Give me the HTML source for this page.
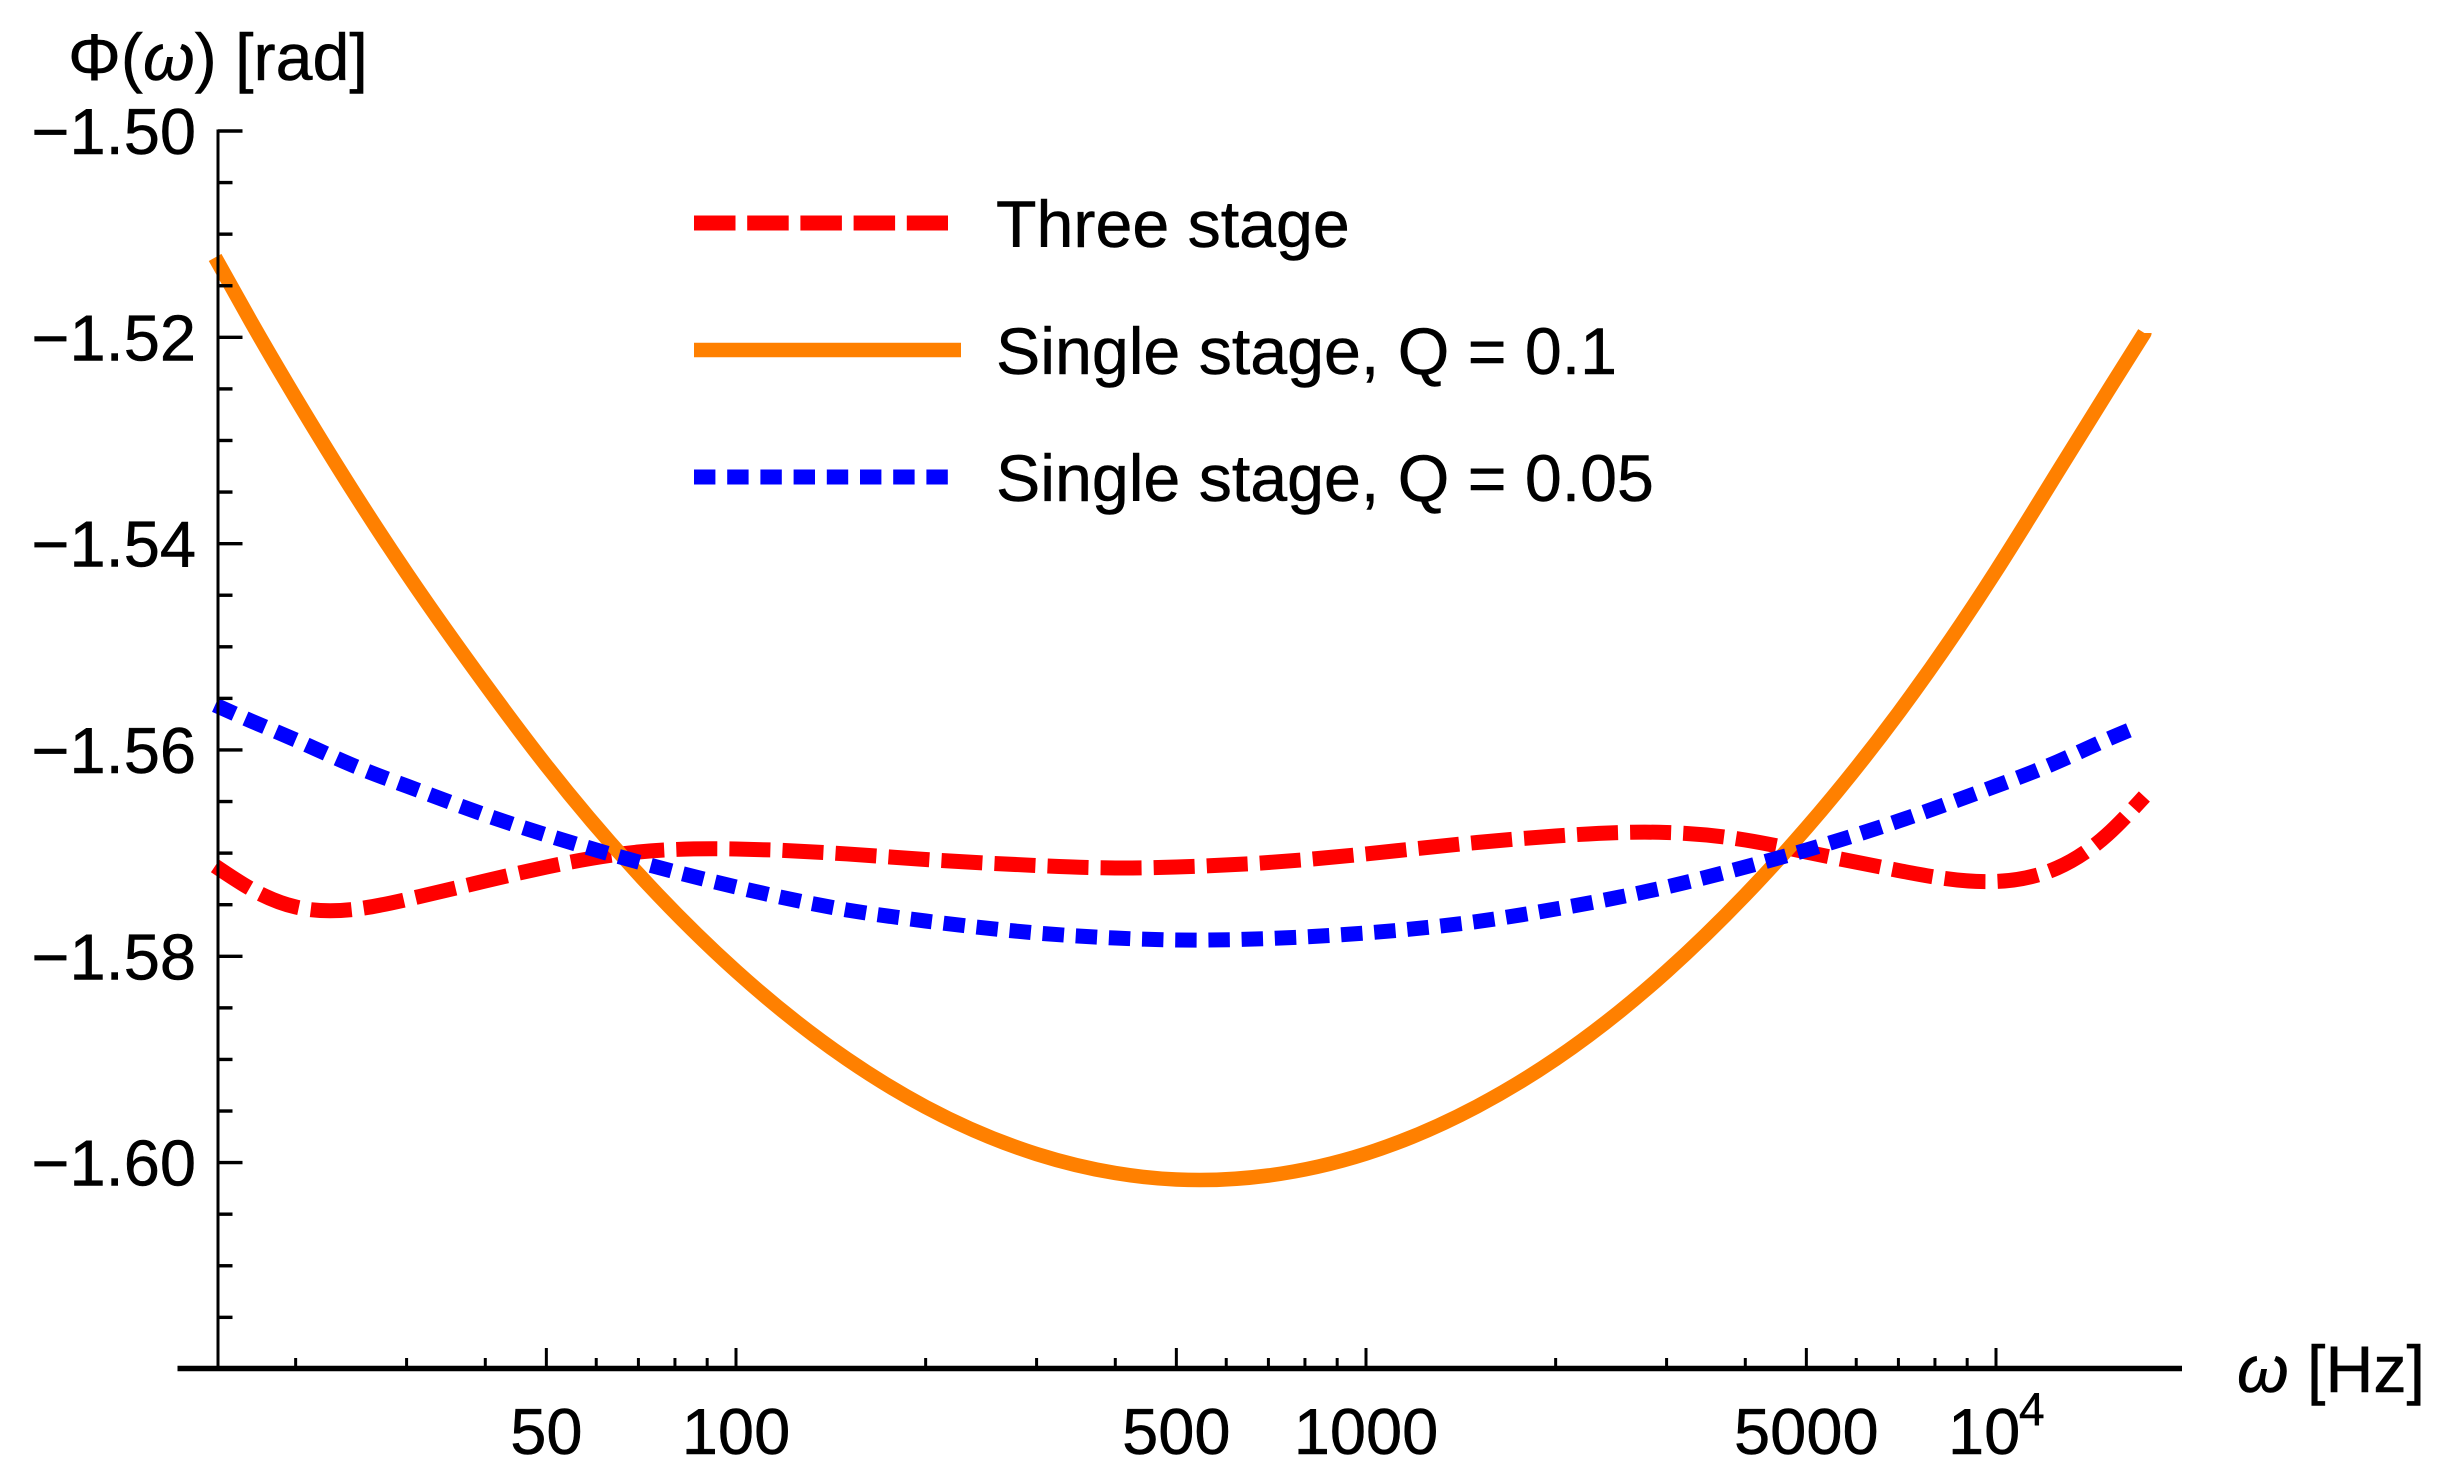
<!DOCTYPE html>
<html lang="en">
<head>
<meta charset="utf-8">
<title>Phase versus frequency</title>
<style>
  html, body { margin: 0; padding: 0; background: #ffffff; }
  body { width: 2446px; height: 1483px; overflow: hidden; }
  svg { display: block; }
  text { font-family: "Liberation Sans", "DejaVu Sans", sans-serif; fill: #000000; stroke: #000000; stroke-width: 0.5px; font-size: 66.3px; }
</style>
</head>
<body>
<svg id="chart" xmlns="http://www.w3.org/2000/svg" width="2446" height="1483" viewBox="0 0 2446 1483">
  <rect x="0" y="0" width="2446" height="1483" fill="#ffffff"/>
  <g id="series"></g>
  <g id="axes"></g>
  <text x="68" y="80">Φ(<tspan font-style="italic">ω</tspan>) [rad]</text>
  <text x="2237" y="1392"><tspan font-style="italic">ω</tspan> [Hz]</text>
  <g>
    <line x1="694" y1="223" x2="948" y2="223" stroke="#ff0000" stroke-width="15" stroke-dasharray="41.5 11.7"/>
    <text x="996" y="247">Three stage</text>
    <line x1="694" y1="350" x2="961" y2="350" stroke="#ff8000" stroke-width="14.5"/>
    <text x="996" y="374">Single stage, Q = 0.1</text>
    <line x1="694" y1="477" x2="948" y2="477" stroke="#0000ff" stroke-width="15" stroke-dasharray="21.4 11.8"/>
    <text x="996" y="501">Single stage, Q = 0.05</text>
  </g>
</svg>
<script>
var frequencies = [14.9, 17, 20, 25, 30, 40, 50, 70, 100, 150, 200, 300, 400, 500, 700, 1000, 1500, 2000, 3000, 4000, 5000, 7000, 10000, 12500, 15000, 17200];
var blueFrequencies = [14.9, 17, 20, 25, 30, 40, 50, 70, 100, 150, 200, 300, 400, 500, 700, 1000, 1500, 2000, 3000, 4000, 5000, 7000, 10000, 12500, 15000, 16300];
var threeStage = [-1.57125, -1.57348, -1.57522, -1.57542, -1.5745, -1.5727, -1.57135, -1.56989, -1.5696, -1.57008, -1.57062, -1.5712, -1.57144, -1.57135, -1.57091, -1.57008, -1.56897, -1.56834, -1.568, -1.56873, -1.56989, -1.57168, -1.57275, -1.57144, -1.56824, -1.56451];
var singleStageQ01 = [-1.51226, -1.51851, -1.52588, -1.53548, -1.54285, -1.55365, -1.56151, -1.57202, -1.58143, -1.58996, -1.59461, -1.59917, -1.60101, -1.60164, -1.60125, -1.59913, -1.59456, -1.58996, -1.58147, -1.57406, -1.56757, -1.55642, -1.54265, -1.53315, -1.52535, -1.51958];
var singleStageQ005 = [-1.55564, -1.55719, -1.55903, -1.56165, -1.56349, -1.5663, -1.56824, -1.57086, -1.57328, -1.57551, -1.57658, -1.57774, -1.57823, -1.57842, -1.57828, -1.57774, -1.57663, -1.57542, -1.57328, -1.57135, -1.5697, -1.56689, -1.56349, -1.56117, -1.55899, -1.55806];
var xMajorTicks = [50, 100, 500, 1000, 5000, 10000];
var xMajorLabels = ["50", "100", "500", "1000", "5000", "10"];
var xMinorTicks = [20, 30, 40, 60, 70, 80, 90, 200, 300, 400, 600, 700, 800, 900, 2000, 3000, 4000, 6000, 7000, 8000, 9000];
var yMajorTicks = [-1.5, -1.52, -1.54, -1.56, -1.58, -1.6];
var yMajorLabels = ["\u22121.50", "\u22121.52", "\u22121.54", "\u22121.56", "\u22121.58", "\u22121.60"];
var yMinorTicks = [-1.505, -1.51, -1.515, -1.525, -1.53, -1.535, -1.545, -1.55, -1.555, -1.565, -1.57, -1.575, -1.585, -1.59, -1.595, -1.605, -1.61, -1.615];

var SVG_NS = "http://www.w3.org/2000/svg";
var axesLayer = document.getElementById("axes");
var seriesLayer = document.getElementById("series");
var AXIS_X = 218;
var AXIS_Y = 1368.5;

function xScale(f) {
  return 736 + 630 * (Math.log10(f) - 2);
}
function yScale(v) {
  return 131 + (-1.5 - v) * 10316;
}
function addLine(parent, x1, y1, x2, y2, width) {
  var el = document.createElementNS(SVG_NS, "line");
  el.setAttribute("x1", x1);
  el.setAttribute("y1", y1);
  el.setAttribute("x2", x2);
  el.setAttribute("y2", y2);
  el.setAttribute("stroke", "#000000");
  el.setAttribute("stroke-width", width);
  parent.appendChild(el);
  return el;
}
function addText(parent, x, y, anchor, str) {
  var el = document.createElementNS(SVG_NS, "text");
  el.setAttribute("x", x);
  el.setAttribute("y", y);
  el.setAttribute("text-anchor", anchor);
  el.style.fontSize = "65px";
  el.textContent = str;
  parent.appendChild(el);
  return el;
}
// Natural cubic spline through the data points, emitted as Bezier segments.
function curvePath(freqs, values) {
  var xs = freqs.map(xScale);
  var ys = values.map(yScale);
  var n = xs.length;
  var m = new Array(n).fill(0);
  var c = new Array(n).fill(0);
  var d = new Array(n).fill(0);
  for (var i = 1; i < n - 1; i++) {
    var h0 = xs[i] - xs[i - 1];
    var h1 = xs[i + 1] - xs[i];
    var rhs = 6 * ((ys[i + 1] - ys[i]) / h1 - (ys[i] - ys[i - 1]) / h0);
    var denom = 2 * (h0 + h1) - h0 * c[i - 1];
    c[i] = h1 / denom;
    d[i] = (rhs - h0 * d[i - 1]) / denom;
  }
  for (var j = n - 2; j > 0; j--) {
    m[j] = d[j] - c[j] * m[j + 1];
  }
  var path = "M" + xs[0].toFixed(2) + " " + ys[0].toFixed(2);
  for (var k = 0; k < n - 1; k++) {
    var h = xs[k + 1] - xs[k];
    var s = (ys[k + 1] - ys[k]) / h;
    var t0 = s - h * (2 * m[k] + m[k + 1]) / 6;
    var t1 = s + h * (m[k] + 2 * m[k + 1]) / 6;
    path += " C" + (xs[k] + h / 3).toFixed(2) + " " + (ys[k] + t0 * h / 3).toFixed(2) +
            " " + (xs[k + 1] - h / 3).toFixed(2) + " " + (ys[k + 1] - t1 * h / 3).toFixed(2) +
            " " + xs[k + 1].toFixed(2) + " " + ys[k + 1].toFixed(2);
  }
  return path;
}

var redCurve = document.createElementNS(SVG_NS, "path");


redCurve.setAttribute("d", curvePath(frequencies, threeStage));
redCurve.setAttribute("fill", "none");
redCurve.setAttribute("stroke", "#ff0000");
redCurve.setAttribute("stroke-width", "15");
redCurve.setAttribute("stroke-dasharray", "41 12.1");
seriesLayer.appendChild(redCurve);

var orangeCurve = document.createElementNS(SVG_NS, "path");


orangeCurve.setAttribute("d", curvePath(frequencies, singleStageQ01));
orangeCurve.setAttribute("fill", "none");
orangeCurve.setAttribute("stroke", "#ff8000");
orangeCurve.setAttribute("stroke-width", "14.5");
seriesLayer.appendChild(orangeCurve);

var blueCurve = document.createElementNS(SVG_NS, "path");


blueCurve.setAttribute("d", curvePath(blueFrequencies, singleStageQ005));
blueCurve.setAttribute("fill", "none");
blueCurve.setAttribute("stroke", "#0000ff");
blueCurve.setAttribute("stroke-width", "15");
blueCurve.setAttribute("stroke-dasharray", "21.4 11.8");
seriesLayer.appendChild(blueCurve);

var yAxisLine = addLine(axesLayer, AXIS_X, 129.5, AXIS_X, AXIS_Y, 3);



var xAxisLine = addLine(axesLayer, 177.5, AXIS_Y, 2182, AXIS_Y, 5.5);



yMajorTicks.forEach(function (v, i) {
  var y = yScale(v);
  var tick = addLine(axesLayer, AXIS_X, y, 242.5, y, 3.4);
  
  
  var label = addText(axesLayer, 196, y + 23, "end", yMajorLabels[i]);
  
  
});

yMinorTicks.forEach(function (v) {
  var y = yScale(v);
  var tick = addLine(axesLayer, AXIS_X, y, 232.5, y, 3.4);
  
  
});

xMajorTicks.forEach(function (f, i) {
  var x = xScale(f);
  var tick = addLine(axesLayer, x, 1348, x, AXIS_Y, 3);
  
  
  var isPower = f === 10000;
  var label = addText(axesLayer, isPower ? x - 48 : x, 1454, isPower ? "start" : "middle", xMajorLabels[i]);
  
  
  if (isPower) {
    var exponent = addText(axesLayer, x + 23, 1425, "start", "4");
    exponent.style.fontSize = "46px";
    
    
  }
});

xMinorTicks.forEach(function (f) {
  var x = xScale(f);
  var tick = addLine(axesLayer, x, 1358, x, AXIS_Y, 3);
  
  
});
</script>
</body>
</html>
